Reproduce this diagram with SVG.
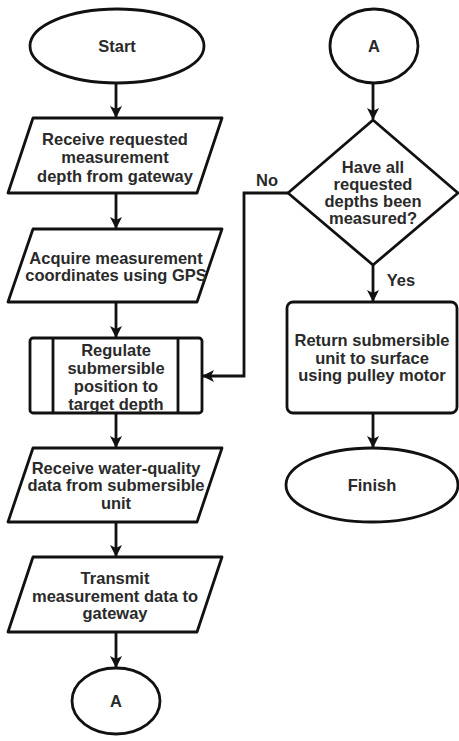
<svg xmlns="http://www.w3.org/2000/svg" width="459" height="741" viewBox="0 0 459 741">
<defs>
<marker id="ah" markerWidth="12" markerHeight="12" viewBox="0 0 12 12" refX="11" refY="6" orient="auto" markerUnits="userSpaceOnUse">
<path d="M0,0 L12,6 L0,12 L3,6 Z" fill="#111"/>
</marker>
<style>
.s{fill:#fff;stroke:#111;stroke-width:2.8;stroke-linejoin:round}
.c{fill:none;stroke:#111;stroke-width:2.8}
text{font-family:"Liberation Sans",Arial,sans-serif;font-weight:bold;font-size:16.5px;fill:#2a2a2a;text-anchor:middle}
</style>
</defs>
<rect width="459" height="741" fill="#fff"/>
<g id="connectors">
<path class="c" d="M116,83 V117" marker-end="url(#ah)"/>
<path class="c" d="M116,193 V228" marker-end="url(#ah)"/>
<path class="c" d="M116,302 V337" marker-end="url(#ah)"/>
<path class="c" d="M116,413 V447" marker-end="url(#ah)"/>
<path class="c" d="M116,522 V556" marker-end="url(#ah)"/>
<path class="c" d="M116,632 V667" marker-end="url(#ah)"/>
<path class="c" d="M373,83 V119" marker-end="url(#ah)"/>
<path class="c" d="M288,193 H244 V376 H203" marker-end="url(#ah)"/>
<path class="c" d="M373,265 V301" marker-end="url(#ah)"/>
<path class="c" d="M373,413 V447" marker-end="url(#ah)"/>
<text x="267" y="186">No</text>
<text x="401" y="286">Yes</text>
</g>
<g id="start">
<ellipse class="s" cx="117" cy="46" rx="87" ry="37"/>
<text x="117" y="52">Start</text>
</g>
<g id="receive-depth">
<path class="s" d="M33,118 H222 L197,193 H8 Z"/>
<text x="115" y="145">Receive requested</text>
<text x="115" y="163">measurement</text>
<text x="115" y="182">depth from gateway</text>
</g>
<g id="acquire-gps">
<path class="s" d="M33,229 H222 L197,302 H8 Z"/>
<text x="116" y="264">Acquire measurement</text>
<text x="116" y="281">coordinates using GPS</text>
</g>
<g id="regulate">
<rect class="s" x="30" y="338" width="172" height="75" rx="3"/>
<path class="c" d="M53,338 V413 M178,338 V413"/>
<text x="116" y="356">Regulate</text>
<text x="116" y="374">submersible</text>
<text x="116" y="392">position to</text>
<text x="116" y="410">target depth</text>
</g>
<g id="receive-data">
<path class="s" d="M33,448 H222 L197,522 H8 Z"/>
<text x="116" y="474">Receive water-quality</text>
<text x="116" y="491">data from submersible</text>
<text x="116" y="509">unit</text>
</g>
<g id="transmit">
<path class="s" d="M33,557 H222 L197,632 H8 Z"/>
<text x="115" y="584">Transmit</text>
<text x="115" y="602">measurement data to</text>
<text x="115" y="619">gateway</text>
</g>
<g id="connector-a-out">
<ellipse class="s" cx="116" cy="701" rx="44" ry="33"/>
<text x="116" y="707">A</text>
</g>
<g id="connector-a-in">
<ellipse class="s" cx="374" cy="46" rx="44" ry="37"/>
<text x="374" y="52">A</text>
</g>
<g id="decision">
<path class="s" d="M373,120 L458,193 L373,265 L288,193 Z"/>
<text x="373" y="173">Have all</text>
<text x="373" y="190">requested</text>
<text x="373" y="207">depths been</text>
<text x="373" y="224">measured?</text>
</g>
<g id="return">
<rect class="s" x="287" y="302" width="170" height="111" rx="6"/>
<text x="372" y="346">Return submersible</text>
<text x="372" y="364">unit to surface</text>
<text x="372" y="381">using pulley motor</text>
</g>
<g id="finish">
<ellipse class="s" cx="372" cy="485" rx="86" ry="37"/>
<text x="372" y="491">Finish</text>
</g>
</svg>
